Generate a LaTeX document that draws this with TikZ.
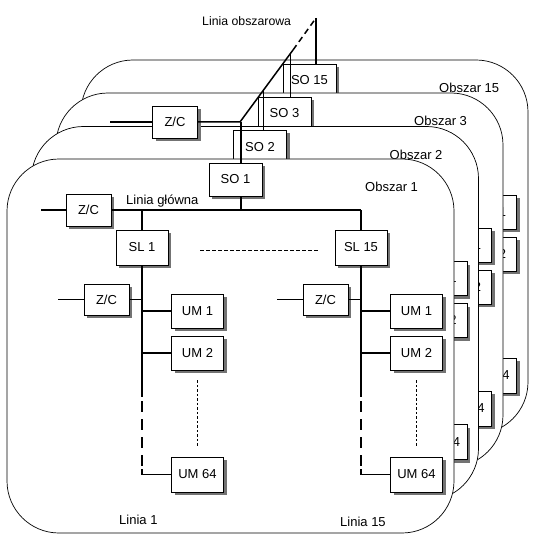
\documentclass[tikz,border=0pt]{standalone}
\usepackage{fontspec}
\setmainfont{Liberation Sans}
\usetikzlibrary{shadows,calc}
\tikzset{
 panel/.style={draw, fill=white, line width=0.7pt, rounded corners=52pt},
 bx/.style={draw, fill=white, line width=0.8pt, inner sep=0pt, font=\fontsize{13}{15}\selectfont,
   drop shadow={shadow xshift=3pt, shadow yshift=-3pt, fill=black!55, opacity=1}},
 um/.style={bx, minimum width=52pt, minimum height=35pt},
 zc/.style={bx, minimum width=45pt, minimum height=32pt},
 sob/.style={bx, minimum width=53pt, minimum height=33pt},
 net/.style={line width=1.5pt},
 thinnet/.style={line width=1pt},
 lbl/.style={inner sep=0pt, font=\fontsize{13}{15}\selectfont},
 longdash/.style={net, dash pattern=on 11pt off 7pt},
 dotln/.style={line width=0.8pt, dash pattern=on 2.5pt off 2pt},
 sldash/.style={line width=0.8pt, dash pattern=on 4pt off 2pt},
}
% the three UM boxes of a line
\newcommand\umboxes[1]{%
 \node[um, minimum height=34pt] (#1ua) at (197.5,311) {UM 1};
 \node[um, minimum height=34pt] (#1ub) at (197.5,353) {UM 2};
 \node[um] (#1uc) at (197.5,474.5) {UM 64};
}
% a complete line (SL, Z/C, UM boxes and connectors)
\newcommand\buscol[2]{%
 \node[um] (#1sl) at (142,247.5) {SL #2};
 \node[zc, minimum height=31pt] (#1zc) at (106.5,299.5) {Z/C};
 \umboxes{#1}
 \coordinate (#1top) at (142,210);
 \coordinate (#1in) at (58,299.5);
 \coordinate (#1pa) at (142,397);
 \coordinate (#1pb) at (142,401);
 \coordinate (#1pc) at (142,466);
 \coordinate (#1pd) at (142,469);
 \coordinate (#1pe) at (142,474.5);
 \draw[net] (#1top) -- (#1sl);
 \draw[net] (#1sl) -- (#1pa);
 \draw[longdash] (#1pb) -- (#1pc);
 \draw[net] (#1pd) -- (#1pe) -- (#1uc);
 \draw[thinnet] (#1in) -- (#1zc);
 \draw[net] (#1zc) -- (#1zc -| #1top);
 \draw[net] (#1ua -| #1top) -- (#1ua);
 \draw[net] (#1ub -| #1top) -- (#1ub);
 \draw[dotln] ($(#1ub.south)+(0,10)$) -- ($(#1uc.north)+(0,-11)$);
}
% a back area: only its visible parts
\newcommand\backpanel[3]{%
 \begin{scope}[shift={#3}]
 \draw[panel] (7,159) rectangle (454,533);
 \node[lbl, anchor=west] (#1lab) at (365,187) {Obszar #2};
 \node[sob] (#1so) at (235.5,179.5) {SO #2};
 \begin{scope}[shift={(219,0)}]
  \umboxes{#1R}
 \end{scope}
 \end{scope}}
\begin{document}
\begin{tikzpicture}[x=1pt,y=-1pt]
\useasboundingbox (0,0) rectangle (533,540);
\backpanel{D}{15}{(74,-99)}
\backpanel{C}{3}{(49,-66)}
\backpanel{B}{2}{(24.5,-32.5)}
% front area
\draw[panel] (7,159) rectangle (454,533);
\node[lbl, anchor=west] (Alab) at (365,187) {Obszar 1};
\node[zc] (Azc) at (88.5,210) {Z/C};
\node[sob] (Aso) at (235.5,179.5) {SO 1};
\node[lbl, anchor=base west] (Alg) at (126,204) {Linia główna};
\coordinate (Ain) at (41,210);
\coordinate (Asx) at (241,210);
\buscol{AL}{1}
\begin{scope}[shift={(219,0)}]
 \buscol{AR}{15}
\end{scope}
\draw[net] (Ain) -- (Azc);
\draw[net] (Azc) -- (ARtop);
\draw[net] (Asx) -- (Asx |- Aso.south);
\draw[sldash] ($(ALsl.east)+(32,2.5)$) -- ($(ARsl.west)+(-15,2.5)$);
\node[lbl, anchor=base west] (Ala) at (119,524.5) {Linia 1};
\node[lbl, anchor=base west] (Alb) at (340,526.5) {Linia 15};
% area line (backbone)
\node[zc] (zct) at (175,122) {Z/C};
\coordinate (zin) at (110,122);
\coordinate (J1) at (240,122);
\coordinate (Jd) at (293,50);
\coordinate (J15) at (316,18);
\coordinate (S1) at (241,122);
\coordinate (S2) at (263.5,90);
\coordinate (S3) at (290.5,53.5);
\draw[net] (zin) -- (zct);
\draw[net] (zct) -- (J1) -- (Jd);
\draw[net, dash pattern=on 6pt off 4pt] (Jd) -- (J15);
\draw[net] (S1) -- (S1 |- Aso.north);
\draw[net] (S2) -- (S2 |- Bso.north);
\draw[net] (S3) -- (S3 |- Cso.north);
\draw[net] (J15) -- (J15 |- Dso.north);
\node[lbl, anchor=base west, font=\fontsize{12.3}{14}\selectfont] (lo) at (202,25.5) {Linia obszarowa};
\end{tikzpicture}
\end{document}
